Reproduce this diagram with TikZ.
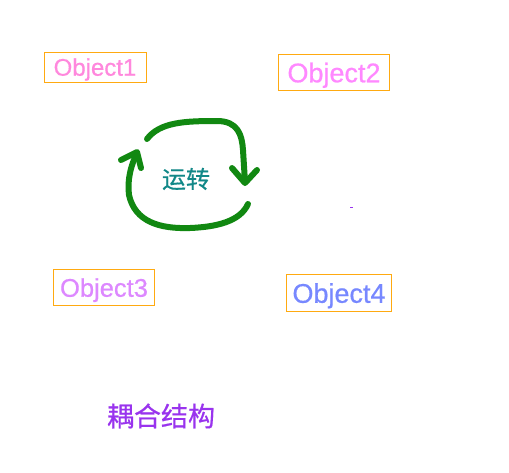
\documentclass[tikz,border=0pt]{standalone}
\usepackage{fontspec}
\setmainfont{Liberation Sans}
\newfontfamily\objfont[FakeBold=0.6]{Liberation Sans}
\newfontfamily\cjk[FakeBold=0.5]{Noto Sans CJK SC}
\definecolor{boxorange}{HTML}{FFAA11}
\definecolor{objpinka}{HTML}{FF88DD}
\definecolor{objpinkb}{HTML}{FF88FF}
\definecolor{objlilac}{HTML}{DD88FF}
\definecolor{objblue}{HTML}{7788FF}
\definecolor{turngreen}{HTML}{118811}
\definecolor{turnteal}{HTML}{118888}
\definecolor{titlepurple}{HTML}{9933EE}
\begin{document}
\begin{tikzpicture}[x=1pt,y=-1pt,
    objbox/.style={draw=boxorange, line width=1pt, inner sep=0pt, text depth=0pt},
    turnline/.style={turngreen, line width=6pt, line cap=round, line join=round}]
    % Cadre
    \useasboundingbox[fill=white] (0,0) rectangle (509,472);

    % Objets
    \node[objbox, minimum width=102pt, minimum height=30pt, text=objpinka, font=\objfont\fontsize{24}{24}\selectfont] (obj1) at (95,67) {Object1};
    \node[objbox, minimum width=111pt, minimum height=36pt, text=objpinkb, font=\objfont\fontsize{27}{27}\selectfont] (obj2) at (334,72.5) {Object2};
    \node[objbox, minimum width=101pt, minimum height=36pt, text=objlilac, font=\objfont\fontsize{25.5}{25.5}\selectfont] (obj3) at (104,287.5) {Object3};
    \node[objbox, minimum width=105pt, minimum height=37pt, text=objblue, font=\objfont\fontsize{27}{27}\selectfont] (obj4) at (339,293) {Object4};

    % Fleche du haut
    \draw[turnline] (147,139) .. controls (160,122) and (185,121) .. (217,121)
        .. controls (238,121) and (242,135) .. (243,150) -- (245,182);
    \draw[turnline] (232,168) -- (245,183) -- (257,170);
    % Fleche du bas
    \draw[turnline] (248,204) .. controls (240,222) and (215,227) .. (190,228)
        .. controls (160,229) and (135,222) .. (129,195)
        .. controls (127,180) and (131,165) .. (137,153);
    \draw[turnline] (121,160) -- (137,152) -- (141,168);

    % Labels
    \node[text=turnteal, font=\cjk\fontsize{24}{24}\selectfont] (turn) at (186,179) {运转};
    \node[text=titlepurple, font=\cjk\fontsize{27}{27}\selectfont] (title) at (161,416) {耦合结构};

    % Petit trait
    \draw[titlepurple, line width=0.8pt] (350,207) -- (353,207);
\end{tikzpicture}
\end{document}
